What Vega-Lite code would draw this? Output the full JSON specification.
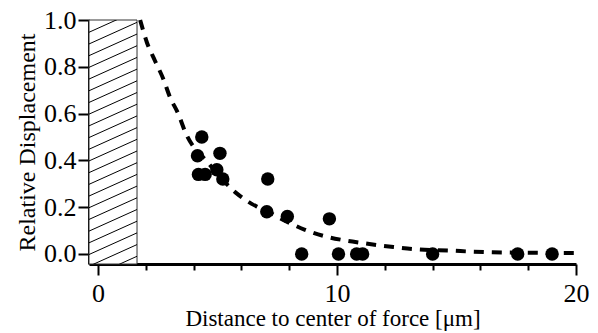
{
  "$schema": "https://vega.github.io/schema/vega-lite/v6.json",
  "width": 487,
  "height": 244,
  "autosize": "none",
  "padding": {"left": 89, "top": 20, "right": 22, "bottom": 69},
  "background": "white",
  "config": {
    "view": {"stroke": null},
    "font": "Liberation Serif"
  },
  "datasets": {
    "points": [
      {"d": 4.34, "r": 0.50},
      {"d": 4.16, "r": 0.42},
      {"d": 5.1, "r": 0.43},
      {"d": 4.2, "r": 0.34},
      {"d": 4.48, "r": 0.34},
      {"d": 4.97, "r": 0.36},
      {"d": 5.22, "r": 0.32},
      {"d": 7.1, "r": 0.32},
      {"d": 7.06, "r": 0.18},
      {"d": 7.92, "r": 0.16},
      {"d": 9.68, "r": 0.15},
      {"d": 8.52, "r": 0.0},
      {"d": 10.06, "r": 0.0},
      {"d": 10.82, "r": 0.0},
      {"d": 11.07, "r": 0.0},
      {"d": 14.0, "r": 0.0},
      {"d": 17.56, "r": 0.0},
      {"d": 19.0, "r": 0.0}
    ],
    "fit": [
      {"d": 1.76, "r": 1.0},
      {"d": 2.04, "r": 0.905},
      {"d": 2.38, "r": 0.826},
      {"d": 2.73, "r": 0.748},
      {"d": 3.01, "r": 0.67},
      {"d": 3.36, "r": 0.598},
      {"d": 3.64, "r": 0.523},
      {"d": 4.62, "r": 0.388},
      {"d": 5.8, "r": 0.259},
      {"d": 6.43, "r": 0.214},
      {"d": 7.06, "r": 0.183},
      {"d": 7.9, "r": 0.138},
      {"d": 8.66, "r": 0.103},
      {"d": 9.43, "r": 0.077},
      {"d": 10.2, "r": 0.06},
      {"d": 11.1, "r": 0.046},
      {"d": 11.66, "r": 0.038},
      {"d": 12.43, "r": 0.029},
      {"d": 13.2, "r": 0.021},
      {"d": 14.8, "r": 0.014},
      {"d": 15.6, "r": 0.01},
      {"d": 16.5, "r": 0.007},
      {"d": 18.1, "r": 0.005},
      {"d": 20.0, "r": 0.004}
    ],
    "zone": [
      {"x1": -0.38, "x2": 1.63, "y1": -0.043, "y2": 1.0}
    ],
    "hatch": [
      {"xa": -0.5, "ya": 0.942, "xb": 1.63, "yb": 1.04},
      {"xa": -0.5, "ya": 0.892, "xb": 1.63, "yb": 0.99},
      {"xa": -0.5, "ya": 0.842, "xb": 1.63, "yb": 0.94},
      {"xa": -0.5, "ya": 0.792, "xb": 1.63, "yb": 0.89},
      {"xa": -0.5, "ya": 0.742, "xb": 1.63, "yb": 0.84},
      {"xa": -0.5, "ya": 0.692, "xb": 1.63, "yb": 0.79},
      {"xa": -0.5, "ya": 0.642, "xb": 1.63, "yb": 0.74},
      {"xa": -0.5, "ya": 0.592, "xb": 1.63, "yb": 0.69},
      {"xa": -0.5, "ya": 0.542, "xb": 1.63, "yb": 0.64},
      {"xa": -0.5, "ya": 0.492, "xb": 1.63, "yb": 0.59},
      {"xa": -0.5, "ya": 0.442, "xb": 1.63, "yb": 0.54},
      {"xa": -0.5, "ya": 0.392, "xb": 1.63, "yb": 0.49},
      {"xa": -0.5, "ya": 0.342, "xb": 1.63, "yb": 0.44},
      {"xa": -0.5, "ya": 0.292, "xb": 1.63, "yb": 0.39},
      {"xa": -0.5, "ya": 0.242, "xb": 1.63, "yb": 0.34},
      {"xa": -0.5, "ya": 0.192, "xb": 1.63, "yb": 0.29},
      {"xa": -0.5, "ya": 0.142, "xb": 1.63, "yb": 0.24},
      {"xa": -0.5, "ya": 0.092, "xb": 1.63, "yb": 0.19},
      {"xa": -0.5, "ya": 0.042, "xb": 1.63, "yb": 0.14},
      {"xa": -0.5, "ya": -0.008, "xb": 1.63, "yb": 0.09},
      {"xa": -0.5, "ya": -0.058, "xb": 1.63, "yb": 0.04},
      {"xa": -0.5, "ya": -0.108, "xb": 1.63, "yb": -0.01}
    ]
  },
  "layer": [
    {
      "data": {"name": "zone"},
      "mark": {"type": "rect", "fill": "white", "stroke": "#333", "strokeWidth": 1},
      "encoding": {
        "x": {
          "field": "x1", "type": "quantitative",
          "scale": {"domain": [-0.38, 20], "nice": false, "zero": false},
          "axis": {
            "title": "Distance to center of force [μm]",
            "values": [0,1,2,3,4,5,6,7,8,9,10,11,12,13,14,15,16,17,18,19,20],
            "labelExpr": "datum.value % 5 === 0 ? datum.label : ''",
            "tickSize": {"condition": {"test": "datum.value % 5 === 0", "value": 11}, "value": 6},
            "tickWidth": 2,
            "tickColor": "black",
            "domainColor": "black",
            "domainWidth": 3,
            "labelFontSize": 26,
            "labelColor": "black",
            "labelPadding": 5,
            "labelFlush": false,
            "labelOverlap": false,
            "titleFontSize": 23,
            "titleFontWeight": "normal",
            "titleColor": "black",
            "titlePadding": 1,
            "grid": false
          }
        },
        "x2": {"field": "x2"},
        "y": {
          "field": "y1", "type": "quantitative",
          "scale": {"domain": [-0.043, 1.0], "nice": false, "zero": false},
          "axis": {
            "title": "Relative Displacement",
            "values": [0, 0.2, 0.4, 0.6, 0.8, 1.0],
            "format": ".1f",
            "tickSize": 11,
            "tickWidth": 2,
            "tickColor": "black",
            "domainColor": "black",
            "domainWidth": 3,
            "labelFontSize": 26,
            "labelColor": "black",
            "labelPadding": 2,
            "labelFlush": false,
            "labelOverlap": false,
            "titleFontSize": 24,
            "titleFontWeight": "normal",
            "titleColor": "black",
            "titlePadding": 4,
            "grid": false
          }
        },
        "y2": {"field": "y2"}
      }
    },
    {
      "data": {"name": "hatch"},
      "mark": {"type": "rule", "stroke": "black", "strokeWidth": 1, "clip": true},
      "encoding": {
        "x": {"field": "xa", "type": "quantitative"},
        "x2": {"field": "xb"},
        "y": {"field": "ya", "type": "quantitative"},
        "y2": {"field": "yb"}
      }
    },
    {
      "data": {"name": "fit"},
      "mark": {"type": "line", "stroke": "black", "strokeWidth": 4, "strokeDash": [10, 8], "interpolate": "monotone"},
      "encoding": {
        "x": {"field": "d", "type": "quantitative"},
        "y": {"field": "r", "type": "quantitative"}
      }
    },
    {
      "data": {"name": "points"},
      "mark": {"type": "circle", "fill": "black", "opacity": 1, "size": 180},
      "encoding": {
        "x": {"field": "d", "type": "quantitative"},
        "y": {"field": "r", "type": "quantitative"}
      }
    }
  ]
}
